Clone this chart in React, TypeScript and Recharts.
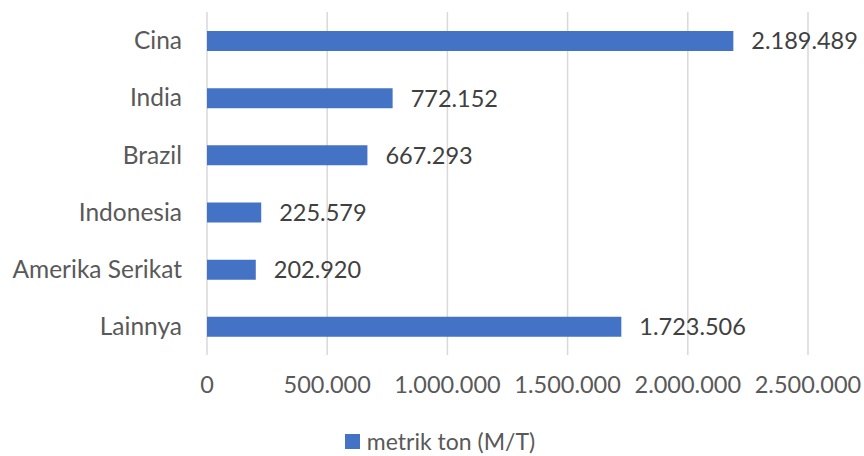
import React from "react";
import {
  BarChart,
  Bar,
  XAxis,
  YAxis,
  CartesianGrid,
  LabelList,
  Legend,
} from "recharts";

const countries = ["Cina", "India", "Brazil", "Indonesia", "Amerika Serikat", "Lainnya"];
const tons = [2189489, 772152, 667293, 225579, 202920, 1723506];
const xTicks = [0, 500000, 1000000, 1500000, 2000000, 2500000];
const seriesName = "metrik ton (M/T)";

const data = countries.map((c, i) => ({ country: c, value: tons[i] }));

const FONT = "Lato, sans-serif";

// Indonesian style thousands separator
function fmt(v: number) {
  return String(v).replace(/\B(?=(\d{3})+(?!\d))/g, ".");
}

function LegendBox() {
  return (
    <div
      style={{
        display: "flex",
        alignItems: "center",
        justifyContent: "center",
        paddingLeft: 16,
        height: 30,
        lineHeight: "30px",
        fontFamily: FONT,
        fontSize: 23,
        color: "#595959",
      }}
    >
      <span style={{ width: 15, height: 15, background: "#4472C4", display: "inline-block", marginRight: 7 }}></span>
      {seriesName}
    </div>
  );
}

export default function App() {
  return (
    <div style={{ position: "absolute", left: 0, top: 0, width: 864, height: 456, background: "#fff" }}>
      <BarChart
        width={864}
        height={456}
        data={data}
        layout="vertical"
        margin={{ top: 12, right: 56, bottom: 0, left: 0 }}
      >
        <CartesianGrid horizontal={false} stroke="#d9d9d9" strokeWidth={1.5} />
        <XAxis
          type="number"
          domain={[0, 2500000]}
          ticks={xTicks}
          tickFormatter={fmt}
          axisLine={false}
          tickLine={false}
          tickSize={0}
          tickMargin={21}
          height={71}
          tick={{ fill: "#595959", fontSize: 23.5, fontFamily: FONT }}
        />
        <YAxis
          type="category"
          dataKey="country"
          width={207}
          axisLine={false}
          tickLine={false}
          tickSize={0}
          tickMargin={25}
          tick={{ fill: "#595959", fontSize: 24.5, fontFamily: FONT }}
        />
        <Legend
          verticalAlign="bottom"
          content={() => <LegendBox />}
          wrapperStyle={{ left: 0, width: 864, bottom: 0 }}
        />
        <Bar dataKey="value" name={seriesName} fill="#4472C4" barSize={20} isAnimationActive={false}>
          <LabelList
            dataKey="value"
            position="right"
            offset={18}
            formatter={(v: number) => fmt(v)}
            style={{ fill: "#404040", fontSize: 23.5, fontFamily: FONT }}
          />
        </Bar>
      </BarChart>
    </div>
  );
}
